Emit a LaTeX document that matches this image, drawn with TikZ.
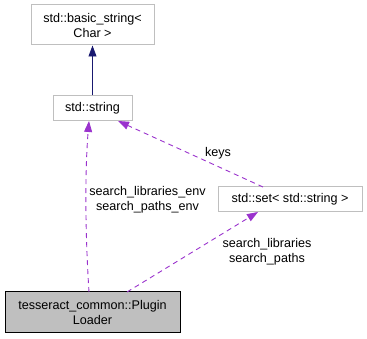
\documentclass[tikz,border=0pt]{standalone}
\usepackage{fontspec}
\setmainfont{Liberation Sans}
\usetikzlibrary{arrows.meta}
\definecolor{edgegrey}{HTML}{BFBFBF}
\definecolor{nodefill}{HTML}{BFBFBF}
\definecolor{usage}{HTML}{9A32CD}
\definecolor{inherit}{HTML}{191970}
\begin{document}
\begin{tikzpicture}[x=1pt,y=-1pt,
  font=\fontsize{12.6}{15}\selectfont,
  cls/.style={draw=edgegrey,line width=1pt,fill=white,inner sep=0pt,align=center},
  main/.style={draw=black,line width=1pt,fill=nodefill,inner sep=0pt,align=center},
  tip/.style={-{Triangle[length=11pt,width=8pt]}},
  uses/.style={tip,draw=usage,line width=0.9pt,dash pattern=on 5pt off 4pt},
  derives/.style={tip,draw=inherit,line width=0.9pt},
  lbl/.style={inner sep=0pt,align=center}]
\useasboundingbox (0,0) rectangle (367,339);
\node[cls,minimum width=123pt,minimum height=40pt] (bs) at (92.5,25) {std::basic\_string<\\Char >};
\node[cls,minimum width=79pt,minimum height=25pt] (str) at (92.5,108.5) {std::string};
\node[cls,minimum width=144pt,minimum height=25pt] (set) at (290,199.5) {std::set< std::string >};
\node[main,minimum width=175pt,minimum height=40pt] (pl) at (92.5,312) {tesseract\_common::Plugin\\Loader};
\coordinate (plA) at (89,292);
\coordinate (plB) at (127,292);
\coordinate (strA) at (89,121);
\coordinate (strB) at (118,121);
\coordinate (setA) at (258,212);
\coordinate (setB) at (263,187);
\draw[derives] (str.north) -- (bs.south);
\draw[uses] (plA) .. controls (85,230) and (85,170) .. (strA);
\draw[uses] (plB) -- (setA);
\draw[uses] (setB) -- (strB);
\node[lbl] (l1) at (147.5,199.5) {search\_libraries\_env\\search\_paths\_env};
\node[lbl] (l2) at (267,251.5) {search\_libraries\\search\_paths};
\node[lbl] (l3) at (218,153) {keys};
\end{tikzpicture}
\end{document}
